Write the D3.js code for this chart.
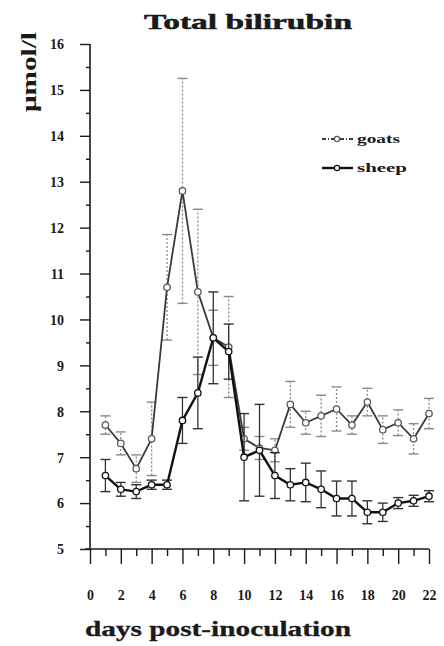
<!DOCTYPE html>
<html lang="en">
<head>
<meta charset="utf-8" />
<title>Total bilirubin</title>
<style>
html, body {
	margin: 0;
	padding: 0;
	background: #fff;
}
svg {
	display: block;
}
svg text {
	font-family: "Liberation Serif", "DejaVu Serif", serif;
	font-weight: bold;
}
</style>
</head>
<body>
<svg width="444" height="646"></svg>

<script src="https://cdn.jsdelivr.net/npm/d3@7/dist/d3.min.js"></script>
<script>

// days post-inoculation
var days = [1, 2, 3, 4, 5, 6, 7, 8, 9, 10, 11, 12, 13, 14, 15, 16, 17, 18, 19, 20, 21, 22];

// goats: mean and error (umol/l)
var goats = [7.7, 7.3, 6.75, 7.4, 10.7, 12.8, 10.6, 9.6, 9.4, 7.4, 7.2, 7.15, 8.15, 7.75, 7.9, 8.05, 7.7, 8.2, 7.6, 7.75, 7.4, 7.95];
var goatsErr = [0.2, 0.25, 0.3, 0.8, 1.15, 2.45, 1.8, 0.6, 1.1, 0.25, 0.25, 0.25, 0.5, 0.25, 0.45, 0.48, 0.2, 0.3, 0.3, 0.28, 0.33, 0.33];

// sheep: mean and error (umol/l)
var sheep = [6.6, 6.3, 6.25, 6.4, 6.4, 7.8, 8.4, 9.6, 9.3, 7.0, 7.15, 6.6, 6.4, 6.45, 6.3, 6.1, 6.1, 5.8, 5.8, 6.0, 6.05, 6.15];
var sheepErr = [0.35, 0.15, 0.15, 0.1, 0.1, 0.5, 0.78, 1.0, 0.6, 0.95, 1.0, 0.5, 0.35, 0.42, 0.4, 0.38, 0.38, 0.25, 0.2, 0.12, 0.12, 0.12];

var xTicks = [0, 2, 4, 6, 8, 10, 12, 14, 16, 18, 20, 22];
var yTicks = [5, 6, 7, 8, 9, 10, 11, 12, 13, 14, 15, 16];

var svg = d3.select('svg');

var x = d3.scaleLinear().domain([0, 22]).range([90, 429]);
var y = d3.scaleLinear().domain([5, 16]).range([549, 44]);

var ink = '#1a1a1a';

//title
svg.append('text')
	.attr('x', 248).attr('y', 29)
	.attr('text-anchor', 'middle')
	.attr('font-size', 22)
	.attr('textLength', 208)
	.attr('lengthAdjust', 'spacingAndGlyphs')
	.attr('fill', ink)
	.attr('stroke', ink).attr('stroke-width', 0.5)
	.text('Total bilirubin');

//y axis label
svg.append('text')
	.attr('transform', 'translate(36,72) rotate(-90)')
	.attr('text-anchor', 'middle')
	.attr('font-size', 20)
	.attr('textLength', 80)
	.attr('lengthAdjust', 'spacingAndGlyphs')
	.attr('fill', ink)
	.text('μmol/l');

//x axis label
svg.append('text')
	.attr('x', 85).attr('y', 636)
	.attr('font-size', 21)
	.attr('textLength', 266)
	.attr('lengthAdjust', 'spacingAndGlyphs')
	.attr('fill', ink)
	.attr('stroke', ink).attr('stroke-width', 0.3)
	.text('days post-inoculation');

//y axis: major ticks at integers, minor at halves
var yAxis = svg.append('g')
	.attr('transform', 'translate(' + x(0) + ',0)')
	.call(d3.axisLeft(y).tickValues(d3.range(5, 16.01, 0.5)).tickSize(5).tickFormat(''));
yAxis.selectAll('.tick line')
	.attr('x2', function(d){ return d % 1 === 0 ? -10 : -4; });
yAxis.selectAll('.tick').filter(function(d){ return yTicks.indexOf(d) >= 0; })
	.append('text')
	.attr('x', -26).attr('dy', '0.35em')
	.attr('text-anchor', 'end')
	.attr('font-size', 14)
	.attr('fill', ink)
	.text(function(d){ return d; });
yAxis.select('.domain').attr('d', 'M0,' + y(16) + 'V' + y(5));

//x axis: major ticks at even days, minor at odd
var xAxis = svg.append('g')
	.attr('transform', 'translate(0,' + y(5) + ')')
	.call(d3.axisBottom(x).tickValues(d3.range(0, 23)).tickSize(5).tickFormat(''));
xAxis.selectAll('.tick line')
	.attr('y2', function(d){ return d % 2 === 0 ? 15 : 7; });
xAxis.selectAll('.tick').filter(function(d){ return xTicks.indexOf(d) >= 0; })
	.append('text')
	.attr('y', 46).attr('dy', '0.35em')
	.attr('text-anchor', 'middle')
	.attr('font-size', 14)
	.attr('fill', ink)
	.text(function(d){ return d; });
xAxis.select('.domain').attr('d', 'M' + (x(0) - 5) + ',0H' + x(22));

svg.selectAll('.domain').attr('stroke', ink).attr('stroke-width', 1.6);
svg.selectAll('.tick line').attr('stroke', ink).attr('stroke-width', 1.4);

//series settings
var series = [
	{ name: 'goats', values: goats, err: goatsErr, line: '#3a3a3a', lw: 1.8, bar: '#8a8a8a', dash: '2,2', mark: '#5a5a5a' },
	{ name: 'sheep', values: sheep, err: sheepErr, line: '#111', lw: 2.4, bar: '#333', dash: null, mark: '#111' }
];

var line = d3.line()
	.x(function(d){ return x(d.day); })
	.y(function(d){ return y(d.v); });

series.forEach(function(s){
	var pts = days.map(function(d, i){ return { day: d, v: s.values[i], e: s.err[i] }; });
	var g = svg.append('g');

	//error bars
	var eb = g.selectAll('.eb').data(pts).enter().append('g');
	eb.append('line')
		.attr('x1', function(d){ return x(d.day); })
		.attr('x2', function(d){ return x(d.day); })
		.attr('y1', function(d){ return y(d.v - d.e); })
		.attr('y2', function(d){ return y(d.v + d.e); })
		.attr('stroke', s.bar).attr('stroke-width', 1.3)
		.attr('stroke-dasharray', s.dash);
	[-1, 1].forEach(function(sign){
		eb.append('line')
			.attr('x1', function(d){ return x(d.day) - 5; })
			.attr('x2', function(d){ return x(d.day) + 5; })
			.attr('y1', function(d){ return y(d.v + sign * d.e); })
			.attr('y2', function(d){ return y(d.v + sign * d.e); })
			.attr('stroke', s.bar).attr('stroke-width', 1.4);
	});

	//line
	g.append('path')
		.datum(pts)
		.attr('d', line)
		.attr('fill', 'none')
		.attr('stroke', s.line)
		.attr('stroke-width', s.lw);

	//markers
	g.selectAll('circle').data(pts).enter().append('circle')
		.attr('cx', function(d){ return x(d.day); })
		.attr('cy', function(d){ return y(d.v); })
		.attr('r', 3.2)
		.attr('fill', '#fff')
		.attr('stroke', s.mark)
		.attr('stroke-width', 1.3);
});

//legend
var legend = svg.append('g');
series.forEach(function(s, i){
	var ly = 139 + i * 29;
	legend.append('line')
		.attr('x1', 322).attr('x2', 353)
		.attr('y1', ly).attr('y2', ly)
		.attr('stroke', s.line).attr('stroke-width', s.lw)
		.attr('stroke-dasharray', s.dash ? '4,2,1,2' : null);
	legend.append('circle')
		.attr('cx', 337).attr('cy', ly).attr('r', 2.6)
		.attr('fill', '#fff').attr('stroke', s.mark).attr('stroke-width', 1.2);
	legend.append('text')
		.attr('x', 357).attr('y', ly).attr('dy', '0.32em')
		.attr('font-size', 13)
		.attr('textLength', i === 0 ? 43 : 50)
		.attr('lengthAdjust', 'spacingAndGlyphs')
		.attr('fill', ink)
		.text(s.name);
});

</script>
</body>
</html>
